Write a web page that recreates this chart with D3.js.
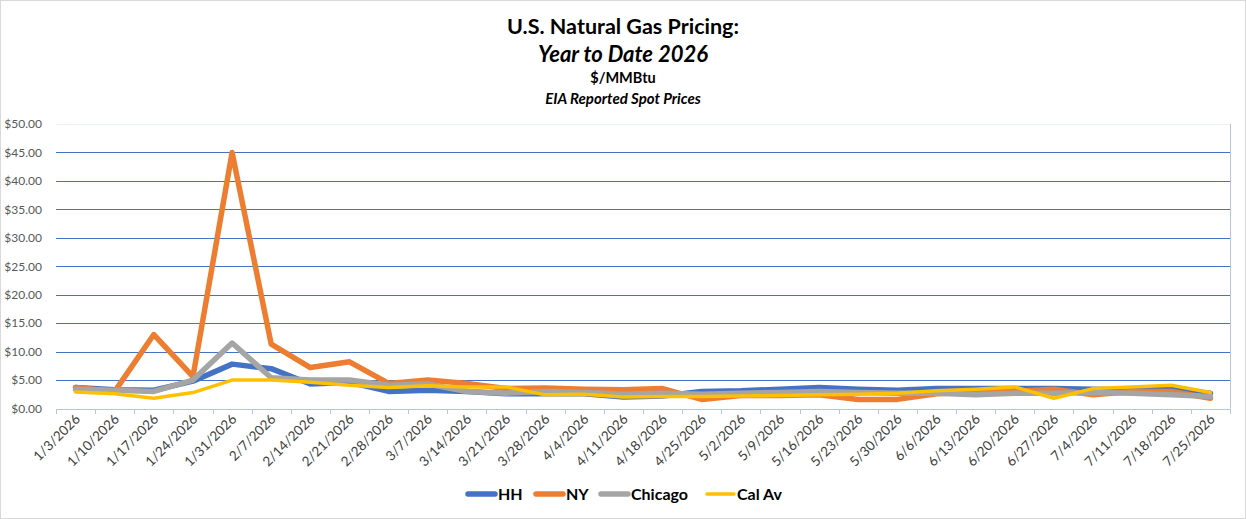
<!DOCTYPE html>
<html>
<head>
<meta charset="utf-8">
<script src="https://cdn.jsdelivr.net/npm/d3@7"></script>
<style>
  html, body { margin: 0; padding: 0; background: #fff; }
  svg { display: block; font-family: Lato, "Open Sans", sans-serif; }
</style>
</head>
<body>
<svg id="chart" width="1246" height="519"></svg>
<script>
const dates = ["1/3/2026","1/10/2026","1/17/2026","1/24/2026","1/31/2026","2/7/2026","2/14/2026","2/21/2026","2/28/2026","3/7/2026","3/14/2026","3/21/2026","3/28/2026","4/4/2026","4/11/2026","4/18/2026","4/25/2026","5/2/2026","5/9/2026","5/16/2026","5/23/2026","5/30/2026","6/6/2026","6/13/2026","6/20/2026","6/27/2026","7/4/2026","7/11/2026","7/18/2026","7/25/2026"];
const hh      = [3.7, 3.3, 3.2, 4.8, 7.8, 7.0, 4.3, 4.6, 3.0, 3.2, 3.0, 2.6, 2.6, 2.6, 2.0, 2.2, 3.0, 3.1, 3.4, 3.7, 3.4, 3.2, 3.5, 3.5, 3.5, 3.5, 3.4, 3.3, 3.4, 2.7];
const ny      = [3.7, 3.0, 13.0, 5.6, 45.0, 11.3, 7.2, 8.2, 4.4, 5.0, 4.4, 3.5, 3.6, 3.4, 3.3, 3.5, 1.6, 2.3, 2.3, 2.4, 1.6, 1.6, 2.6, 2.9, 3.0, 3.4, 2.4, 3.0, 3.0, 1.8];
const chicago = [3.4, 3.2, 3.0, 5.0, 11.5, 5.4, 5.0, 5.0, 4.1, 4.3, 3.0, 2.7, 3.0, 2.8, 2.5, 2.7, 2.5, 2.7, 2.8, 3.0, 2.8, 2.7, 2.7, 2.4, 2.7, 2.7, 2.8, 2.7, 2.4, 2.1];
const calAv   = [2.9, 2.6, 1.8, 2.8, 5.0, 5.0, 4.6, 4.1, 3.7, 4.0, 3.8, 3.8, 2.4, 2.5, 2.0, 2.1, 2.1, 2.2, 2.3, 2.4, 2.5, 2.7, 3.1, 3.4, 3.8, 1.8, 3.5, 3.8, 4.1, 2.8];
const yTicks = [0, 5, 10, 15, 20, 25, 30, 35, 40, 45, 50];
const seriesNames = ["HH", "NY", "Chicago", "Cal Av"];
const seriesColors = ["#4472C4", "#ED7D31", "#A5A5A5", "#FFC000"];

const series = [hh, ny, chicago, calAv].map((vals, i) => ({
  name: seriesNames[i], color: seriesColors[i], values: vals,
  width: i === 3 ? 3.5 : 5.5
}));

const svg = d3.select("#chart");
const W = 1246, H = 519;
const plotLeft = 56, plotRight = 1230, plotTop = 124, plotBottom = 408.5;

// outer frame
svg.append("rect").attr("x", 0.5).attr("y", 0.5).attr("width", W - 1).attr("height", H - 1)
  .attr("fill", "#fff").attr("stroke", "#d9d9d9");

const x = d3.scaleBand().domain(dates).range([plotLeft, plotRight]).padding(0);
const y = d3.scaleLinear().domain([0, 50]).range([plotBottom, plotTop]);

// gridlines
svg.append("g").selectAll("line").data(yTicks.filter(d => d > 0)).join("line")
  .attr("x1", plotLeft).attr("x2", plotRight)
  .attr("y1", d => Math.round(y(d)) + 0.5).attr("y2", d => Math.round(y(d)) + 0.5)
  .attr("stroke", d => d === 50 ? "#eef1f8" : "#4472C4").attr("stroke-width", 1);

// right border
svg.append("line").attr("x1", plotRight + 0.5).attr("x2", plotRight + 0.5)
  .attr("y1", y(50)).attr("y2", y(0)).attr("stroke", "#b4c7e7");

// y axis labels
const yAxis = d3.axisLeft(y).tickValues(yTicks).tickSize(0).tickPadding(0)
  .tickFormat(d => "$" + d3.format(".2f")(d));
const gy = svg.append("g").attr("transform", `translate(${plotLeft - 14},0)`).call(yAxis);
gy.select(".domain").remove();
gy.selectAll("text").attr("fill", "#595959").style("font-size", "12px")
  .style("font-family", "Lato, 'Open Sans', sans-serif");

// x axis line
svg.append("line").attr("x1", plotLeft).attr("x2", plotRight + 1)
  .attr("y1", Math.round(y(0)) + 0.5).attr("y2", Math.round(y(0)) + 0.5)
  .attr("stroke", "#b4c7e7");
// boundary tick marks
const bounds = dates.map(d => x(d)).concat([x.range()[1]]);
svg.append("g").selectAll("line").data(bounds).join("line")
  .attr("x1", d => Math.round(d) + 0.5).attr("x2", d => Math.round(d) + 0.5)
  .attr("y1", Math.round(y(0)) + 0.5).attr("y2", Math.round(y(0)) + 5)
  .attr("stroke", "#b4c7e7");

// x labels
const xAxis = d3.axisBottom(x).tickSize(0).tickPadding(0);
const gx = svg.append("g").attr("transform", `translate(2,${y(0) + 8})`).call(xAxis);
gx.select(".domain").remove();
gx.selectAll("text")
  .attr("text-anchor", "end")
  .attr("dy", "0.35em")
  .attr("transform", "rotate(-45)")
  .attr("fill", "#404040")
  .style("font-size", "13.5px")
  .style("font-family", "Lato, 'Open Sans', sans-serif");

// lines
const line = d3.line().x((d, i) => x(dates[i]) + x.bandwidth() / 2).y(d => y(d));
svg.append("g").selectAll("path").data(series).join("path")
  .attr("d", d => line(d.values))
  .attr("fill", "none")
  .attr("stroke", d => d.color)
  .attr("stroke-width", d => d.width)
  .attr("stroke-linejoin", "round")
  .attr("stroke-linecap", "round");

// titles
const cx = 623;
const titles = [
  { t: "U.S. Natural Gas Pricing:", y: 34, size: 21.5, style: "normal" },
  { t: "Year to Date 2026", y: 62, size: 22, style: "italic" },
  { t: "$/MMBtu", y: 83, size: 14.5, style: "normal" },
  { t: "EIA Reported Spot Prices", y: 104, size: 15, style: "italic" }
];
svg.append("g").selectAll("text").data(titles).join("text")
  .attr("x", cx).attr("y", d => d.y)
  .attr("text-anchor", "middle")
  .attr("font-weight", "bold")
  .attr("font-style", d => d.style)
  .attr("font-size", d => d.size)
  .attr("fill", "#000")
  .text(d => d.t);

// legend
const legendX = [466, 534, 599, 705];
const lg = svg.append("g");
series.forEach((s, i) => {
  const g = lg.append("g").attr("transform", `translate(${legendX[i]},494)`);
  g.append("line").attr("x1", 2).attr("x2", 29).attr("y1", 0).attr("y2", 0)
    .attr("stroke", s.color).attr("stroke-width", s.width)
    .attr("stroke-linecap", "round");
  g.append("text").attr("x", 32).attr("y", 0).attr("dy", "0.36em")
    .attr("font-size", 16).attr("font-weight", "bold").attr("fill", "#000")
    .text(s.name);
});
</script>
</body>
</html>
